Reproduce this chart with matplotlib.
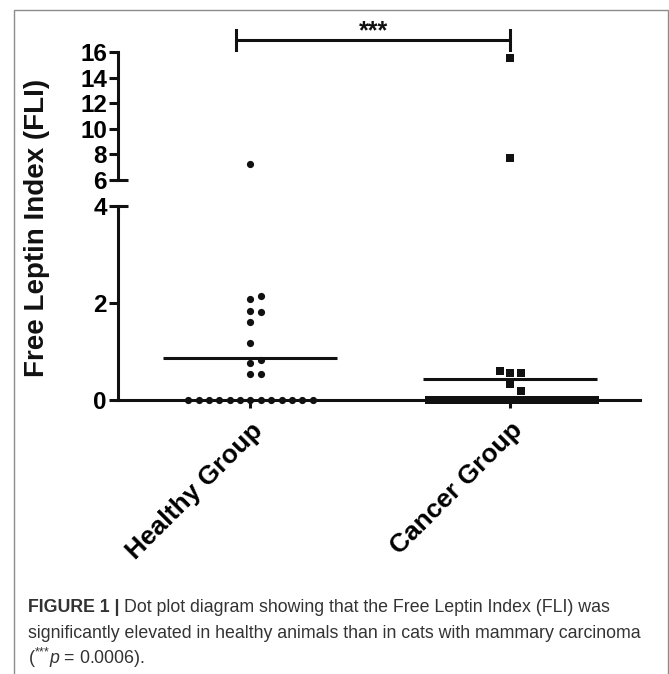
import matplotlib
matplotlib.use("Agg")
import matplotlib.pyplot as plt
import matplotlib.transforms as mtransforms
from matplotlib.patches import Rectangle

plt.rcParams['font.family'] = ['Liberation Sans', 'DejaVu Sans']
plt.rcParams['mathtext.fontset'] = 'custom'
plt.rcParams['mathtext.rm'] = 'Liberation Sans'
plt.rcParams['mathtext.it'] = 'Liberation Sans:italic'

# data
groups = ["Healthy Group", "Cancer Group"]
healthy_vals = [2.08, 2.14, 1.84, 1.81, 1.61, 1.18, 0.76, 0.82, 0.53, 0.53] + [0.0] * 13
healthy_high = [7.25]
cancer_vals = [0.55, 0.55, 0.60, 0.33, 0.19] + [0.0] * 52
cancer_high = [15.5, 7.75]
group_means = [0.87, 0.43]
low_ticks = [0, 2, 4]
high_ticks = [6, 8, 10, 12, 14, 16]
sig_label = "***"

W, H = 669, 674
fig = plt.figure(figsize=(W / 100, H / 100), dpi=100)

def fx(px):
    return px / W

def fy(py):
    return 1 - py / H

ax_lo = fig.add_axes([fx(118), fy(400), fx(640) - fx(118), fy(206) - fy(400)])
ax_hi = fig.add_axes([fx(118), fy(180), fx(640) - fx(118), fy(52) - fy(180)])

LW = 2.2
ppu = 194 / 4.0  # pixels per unit, lower axis


def swarm(vals, step, half, size_px=7):
    # simple dot-plot spreading, centre first then right / left
    counts = {}
    for v in vals:
        counts[v] = counts.get(v, 0) + 1
    placed = []
    offs = []
    for v in vals:
        n = counts[v]
        s = min(step, 2 * half / (n - 1)) if n > 1 else step
        for k in range(500):
            o = ((k + 1) // 2) * s * (1 if k % 2 else -1)
            clash = any(abs(o - po) < 0.9 * s and abs(v - pv) * ppu < size_px
                        for po, pv in placed)
            if not clash:
                break
        placed.append((o, v))
        offs.append(o)
    return offs


xpos = [1, 2]
h_off = swarm(healthy_vals, 0.04, 0.24)
c_off = swarm(cancer_vals, 0.04, 0.32)

ax_lo.plot([xpos[0] + o for o in h_off], healthy_vals, 'o', color='#111111',
           ms=5.2, mew=0, clip_on=False, zorder=4)
ax_lo.plot([xpos[1] + o for o in c_off], cancer_vals, 's', color='#111111',
           ms=5.2, mew=0, clip_on=False, zorder=4)
ax_hi.plot([xpos[0]] * len(healthy_high), healthy_high, 'o', color='#111111',
           ms=5.2, mew=0, clip_on=False)
ax_hi.plot([xpos[1]] * len(cancer_high), cancer_high, 's', color='#111111',
           ms=5.2, mew=0, clip_on=False)

for x, m in zip(xpos, group_means):
    ax_lo.plot([x - 0.335, x + 0.335], [m, m], color='#111111', lw=LW,
               solid_capstyle='butt', zorder=3)

ax_lo.set_xlim(0.49, 2.5)
ax_lo.set_ylim(0, 4)
ax_hi.set_xlim(0.49, 2.5)
ax_hi.set_ylim(6, 16)

for ax in (ax_lo, ax_hi):
    ax.spines['top'].set_visible(False)
    ax.spines['right'].set_visible(False)
    ax.spines['left'].set_linewidth(LW)
    ax.spines['left'].set_color('#111111')
    ax.patch.set_visible(False)
    ax.tick_params(axis='y', length=6.5, width=LW, pad=1.5, labelsize=17.5,
                   color='#111111')

ax_lo.spines['bottom'].set_linewidth(LW)
ax_lo.spines['bottom'].set_color('#111111')
ax_hi.spines['bottom'].set_visible(False)
ax_hi.set_xticks([])

ax_lo.set_yticks(low_ticks)
ax_lo.set_yticklabels([str(t) for t in low_ticks], fontweight='bold')
ax_hi.set_yticks(high_ticks)
ax_hi.set_yticklabels([str(t) for t in high_ticks], fontweight='bold')

ax_lo.set_xticks(xpos)
ax_lo.set_xticklabels(groups, rotation=45, ha='right', va='top',
                      rotation_mode='anchor', fontsize=19, fontweight='bold')
ax_lo.tick_params(axis='x', length=6, width=LW, pad=7, color='#111111')

# break marks, tick extended to the right of the spine
brk = 10 / 522
tr_hi = mtransforms.blended_transform_factory(ax_hi.transAxes, ax_hi.transData)
tr_lo = mtransforms.blended_transform_factory(ax_lo.transAxes, ax_lo.transData)
ax_hi.plot([0, brk], [6, 6], color='#111111', lw=LW, transform=tr_hi,
           clip_on=False, solid_capstyle='butt')
ax_lo.plot([0, brk], [4, 4], color='#111111', lw=LW, transform=tr_lo,
           clip_on=False, solid_capstyle='butt')

# significance bracket
by = 16.94
x0, x1 = 0.946, 2.0
ax_hi.plot([x0, x1], [by, by], color='#111111', lw=LW, clip_on=False,
           solid_capstyle='butt')
ax_hi.plot([x0, x0], [16.15, 17.72], color='#111111', lw=LW, clip_on=False)
ax_hi.plot([x1, x1], [16.15, 17.72], color='#111111', lw=LW, clip_on=False)
ax_hi.text((x0 + x1) / 2, by + 0.15, sig_label, ha='center', va='baseline',
           fontsize=18, fontweight='bold', color='#111111')

fig.text(fx(37), fy(228), "Free Leptin Index (FLI)", rotation=90,
         ha='center', va='center', fontsize=20, fontweight='bold',
         color='#111111')

# caption box
fig.patches.append(Rectangle((fx(14), -0.01), fx(668) - fx(14), fy(10) + 0.01,
                             transform=fig.transFigure, fill=False,
                             edgecolor='#8c8c8c', lw=1.0))

cap_col = '#333333'
cap_size = 12.8
t1 = fig.text(fx(28), fy(607), "FIGURE 1 |", fontsize=cap_size,
              fontweight='bold', color=cap_col, va='center')
fig.canvas.draw()
bb = t1.get_window_extent()
fig.text(bb.x1 / W + fx(4), fy(607),
         "Dot plot diagram showing that the Free Leptin Index (FLI) was",
         fontsize=cap_size, color=cap_col, va='center')
fig.text(fx(28), fy(633),
         "significantly elevated in healthy animals than in cats with mammary carcinoma",
         fontsize=cap_size, color=cap_col, va='center')
fig.text(fx(28), fy(658), r"($^{{*}{*}{*}}\mathit{p}$ = 0.0006).",
         fontsize=cap_size, color=cap_col, va='center')

fig.savefig("out.png", dpi=100)
